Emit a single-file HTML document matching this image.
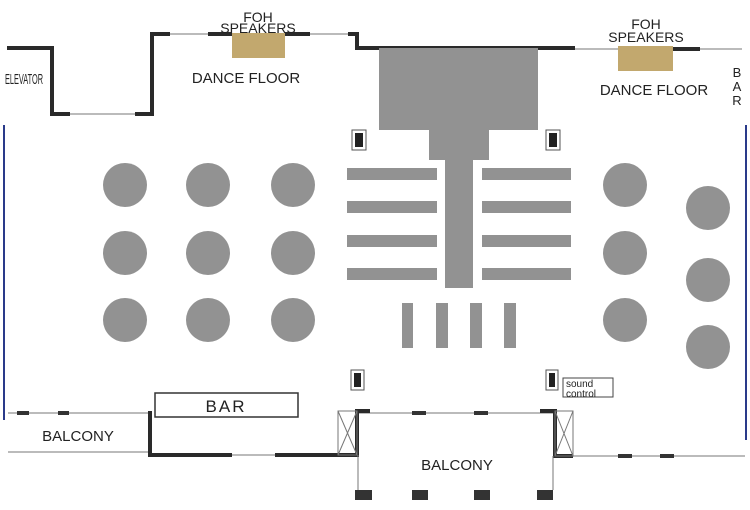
<!DOCTYPE html>
<html><head><meta charset="utf-8"><style>body{margin:0;background:#fff}svg{display:block}text{font-family:"Liberation Sans",sans-serif;fill:#222}</style></head><body>
<svg width="750" height="510" viewBox="0 0 750 510" xmlns="http://www.w3.org/2000/svg">
<rect width="750" height="510" fill="#fff"/>
<g fill="none" stroke="#2a2a2a" stroke-width="4">
<polyline points="7,48 52,48 52,114 70,114"/>
<polyline points="135,114 152,114 152,34 170,34"/>
<line x1="208" y1="34" x2="232" y2="34"/>
<line x1="285" y1="34" x2="310" y2="34"/>
<polyline points="348,34 357,34 357,48 575,48"/>
<line x1="673" y1="49" x2="700" y2="49"/>
</g>
<g stroke="#bbb" stroke-width="2">
<line x1="70" y1="114" x2="135" y2="114"/><line x1="170" y1="34" x2="208" y2="34"/><line x1="310" y1="34" x2="348" y2="34"/>
<line x1="575" y1="49" x2="618" y2="49"/><line x1="700" y1="49" x2="742" y2="49"/>
</g>
<rect x="232" y="33" width="53" height="25" fill="#c2a86e"/>
<rect x="618" y="46" width="55" height="25" fill="#c2a86e"/>
<text x="5" y="84" font-size="15" textLength="38" lengthAdjust="spacingAndGlyphs">ELEVATOR</text>
<text x="258" y="22" font-size="14" text-anchor="middle">FOH</text>
<text x="258" y="33" font-size="14" text-anchor="middle">SPEAKERS</text>
<text x="246" y="83" font-size="15" text-anchor="middle">DANCE FLOOR</text>
<text x="646" y="29" font-size="14" text-anchor="middle">FOH</text>
<text x="646" y="42" font-size="14" text-anchor="middle">SPEAKERS</text>
<text x="654" y="95" font-size="15" text-anchor="middle">DANCE FLOOR</text>
<text x="737" y="77" font-size="13" text-anchor="middle">B</text>
<text x="737" y="91" font-size="13" text-anchor="middle">A</text>
<text x="737" y="105" font-size="13" text-anchor="middle">R</text>
<line x1="4" y1="125" x2="4" y2="420" stroke="#2a3a8a" stroke-width="2"/>
<line x1="746" y1="125" x2="746" y2="440" stroke="#2a3a8a" stroke-width="2"/>
<g fill="#929292">
<rect x="379" y="48" width="159" height="82"/>
<rect x="429" y="129" width="60" height="31"/>
<rect x="445" y="159" width="28" height="129"/>
<rect x="347" y="168" width="90" height="12"/><rect x="347" y="201" width="90" height="12"/><rect x="347" y="235" width="90" height="12"/><rect x="347" y="268" width="90" height="12"/>
<rect x="482" y="168" width="89" height="12"/><rect x="482" y="201" width="89" height="12"/><rect x="482" y="235" width="89" height="12"/><rect x="482" y="268" width="89" height="12"/>
<rect x="402" y="303" width="11" height="45"/><rect x="436" y="303" width="12" height="45"/><rect x="470" y="303" width="12" height="45"/><rect x="504" y="303" width="12" height="45"/>
<circle cx="125" cy="185" r="22"/><circle cx="208" cy="185" r="22"/><circle cx="293" cy="185" r="22"/>
<circle cx="125" cy="253" r="22"/><circle cx="208" cy="253" r="22"/><circle cx="293" cy="253" r="22"/>
<circle cx="125" cy="320" r="22"/><circle cx="208" cy="320" r="22"/><circle cx="293" cy="320" r="22"/>
<circle cx="625" cy="185" r="22"/><circle cx="625" cy="253" r="22"/><circle cx="625" cy="320" r="22"/>
<circle cx="708" cy="208" r="22"/><circle cx="708" cy="280" r="22"/><circle cx="708" cy="347" r="22"/>
</g>
<g fill="#fff" stroke="#555" stroke-width="1">
<rect x="352" y="130" width="14" height="20"/><rect x="546" y="130" width="14" height="20"/>
<rect x="351" y="370" width="13" height="20"/><rect x="546" y="370" width="12" height="20"/>
</g>
<g fill="#222"><rect x="355" y="133" width="8" height="14"/><rect x="549" y="133" width="8" height="14"/><rect x="354" y="373" width="7" height="14"/><rect x="549" y="373" width="6" height="14"/></g>
<rect x="563" y="378" width="50" height="19" fill="#fff" stroke="#444"/>
<text x="566" y="387" font-size="10">sound</text><text x="566" y="397" font-size="10">control</text>
<rect x="155" y="393" width="143" height="24" fill="#fff" stroke="#333" stroke-width="1.5"/>
<text x="226" y="412" font-size="17" text-anchor="middle" letter-spacing="2">BAR</text>
<g stroke="#bbb" stroke-width="2"><line x1="8" y1="413" x2="150" y2="413"/><line x1="357" y1="413" x2="555" y2="413"/><line x1="573" y1="456" x2="745" y2="456"/><line x1="8" y1="452" x2="150" y2="452"/><line x1="232" y1="455" x2="275" y2="455"/></g>
<g fill="#333"><rect x="17" y="411" width="12" height="4"/><rect x="58" y="411" width="11" height="4"/><rect x="412" y="411" width="14" height="4"/><rect x="474" y="411" width="14" height="4"/><rect x="618" y="454" width="14" height="4"/><rect x="660" y="454" width="14" height="4"/></g>
<g fill="none" stroke="#2a2a2a" stroke-width="4">
<polyline points="150,411 150,455 232,455"/><polyline points="275,455 357,455 357,411 370,411"/>
<polyline points="540,411 555,411 555,456 573,456"/>
</g>
<g fill="none" stroke="#777" stroke-width="1">
<rect x="338" y="411" width="19" height="44"/><line x1="338" y1="411" x2="357" y2="455"/><line x1="357" y1="411" x2="338" y2="455"/>
<rect x="555" y="411" width="18" height="45"/><line x1="555" y1="411" x2="573" y2="456"/><line x1="573" y1="411" x2="555" y2="456"/>
<line x1="358" y1="455" x2="358" y2="490"/><line x1="553" y1="456" x2="553" y2="490"/>
</g>
<g fill="#333"><rect x="355" y="490" width="17" height="10"/><rect x="412" y="490" width="16" height="10"/><rect x="474" y="490" width="16" height="10"/><rect x="537" y="490" width="16" height="10"/></g>
<text x="78" y="441" font-size="15" text-anchor="middle">BALCONY</text>
<text x="457" y="470" font-size="15" text-anchor="middle">BALCONY</text>
</svg>
</body></html>
